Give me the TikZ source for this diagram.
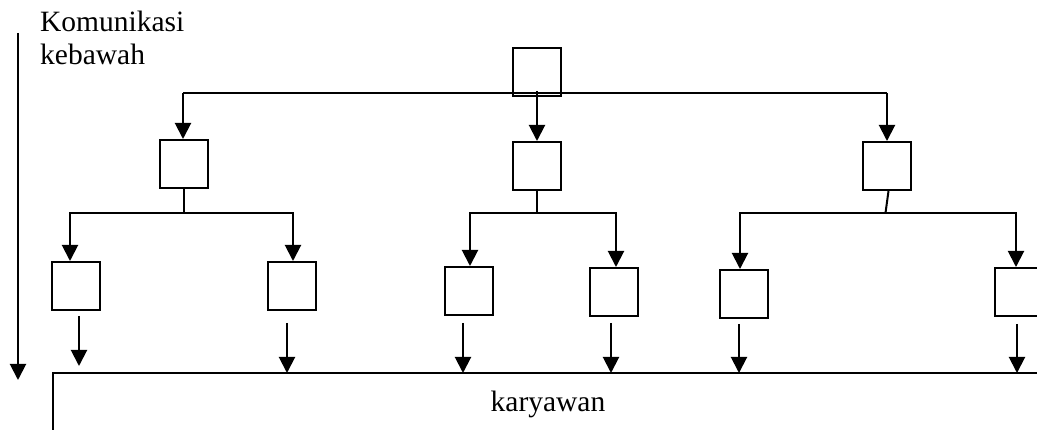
\documentclass[tikz,border=0pt]{standalone}
\usepackage{fontspec}
\setmainfont{Liberation Serif}
\usetikzlibrary{arrows.meta,calc}
\tikzset{
  box/.style={draw, line width=2pt, minimum width=48pt, minimum height=48pt, inner sep=0pt},
  wire/.style={line width=2pt},
  arr/.style={wire, -{Triangle[width=16pt,length=16pt]}},
  lbl/.style={font=\fontsize{29.5}{33}\selectfont, inner sep=0pt, align=left}
}
\begin{document}
\begin{tikzpicture}[x=1pt,y=-1pt]
\useasboundingbox (0,0) rectangle (1037,430);

% caption and direction arrow
\node[lbl, anchor=base west] (cap) at (40,65) {Komunikasi\\kebawah};
\coordinate (dtop) at (18,33);
\coordinate (dend) at (18,380);
\draw[arr] (dtop) -- (dend);

% boxes
\node[box] (top) at (537,72) {};
\node[box] (ma) at (184,164) {};
\node[box] (mb) at (537,166) {};
\node[box] (mc) at (887,166) {};
\node[box] (b1) at (76,286) {};
\node[box] (b2) at (292,286) {};
\node[box] (b3) at (469,291) {};
\node[box] (b4) at (614,292) {};
\node[box] (b5) at (744,294) {};
\node[box] (b6) at (1019,292) {};

% top level distribution
\coordinate (t1) at (183,93);
\coordinate (t3) at (887,93);
\draw[wire] (t1) -- (t3);
\draw[arr] (t1) -- (t1 |- ma.north);
\draw[arr] ($(top.south)+(0,-6)$) -- (top.south |- mb.north);
\draw[arr] (t3) -- (t3 |- mc.north);

% second level distribution
\coordinate (la) at (70,213);
\coordinate (lb) at (293,213);
\coordinate (ca) at (470,213);
\coordinate (cb) at (616,213);
\coordinate (ra) at (740,213);
\coordinate (rb) at (1016,213);
\draw[wire] (ma.south) -- (ma.south |- la);
\draw[wire] (mb.south) -- (mb.south |- ca);
\draw[wire] ($(mc.south)+(1.5,0)$) -- ($(mc.south |- ra)+(-1.5,0)$);
\draw[arr] (lb) -- (la) -- (la |- b1.north);
\draw[arr] (la) -- (lb) -- (lb |- b2.north);
\draw[arr] (cb) -- (ca) -- (ca |- b3.north);
\draw[arr] (ca) -- (cb) -- (cb |- b4.north);
\draw[arr] (rb) -- (ra) -- (ra |- b5.north);
\draw[arr] (ra) -- (rb) -- (rb |- b6.north);

% base: karyawan
\coordinate (kc) at (53,432);
\coordinate (kt) at (53,373);
\coordinate (kr) at (1040,373);
\draw[wire] (kc) -- (kt) -- (kr);
\node[lbl, anchor=base] (kar) at (548,412) {karyawan};

\coordinate (e1) at (79,366);
\coordinate (e2) at (287,373);
\coordinate (e3) at (463,373);
\coordinate (e4) at (611,373);
\coordinate (e5) at (739,373);
\coordinate (e6) at (1017,373);
\draw[arr] ($(b1.south -| e1)+(0,5)$) -- (e1);
\draw[arr] ($(b2.south -| e2)+(0,12)$) -- (e2);
\draw[arr] ($(b3.south -| e3)+(0,7)$) -- (e3);
\draw[arr] ($(b4.south -| e4)+(0,6)$) -- (e4);
\draw[arr] ($(b5.south -| e5)+(0,5)$) -- (e5);
\draw[arr] ($(b6.south -| e6)+(0,7)$) -- (e6);
\end{tikzpicture}
\end{document}
